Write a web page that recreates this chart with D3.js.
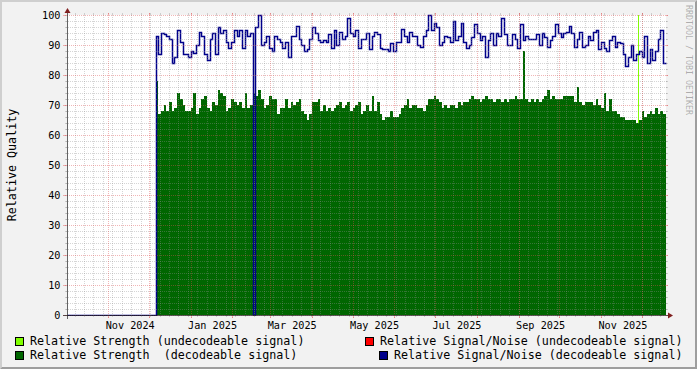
<!DOCTYPE html>
<html><head><meta charset="utf-8">
<script src="https://cdn.jsdelivr.net/npm/d3@7"></script>
<style>html,body{margin:0;padding:0;background:#f2f2f2}svg{display:block}text{font-family:"DejaVu Sans Mono",monospace;white-space:pre}</style>
</head><body><svg id="c" width="697" height="369"></svg>
<script>
// ---------------- data ----------------
const timeStart = "2024-10-01T09:50:00Z";
const timeEnd   = "2025-12-19T02:38:00Z";
const yTicks = [0,10,20,30,40,50,60,70,80,90,100];
const xLabelMonths = ["2024-11-01","2025-01-01","2025-03-01","2025-05-01","2025-07-01","2025-09-01","2025-11-01"];
const xLabels = ["Nov 2024","Jan 2025","Mar 2025","May 2025","Jul 2025","Sep 2025","Nov 2025"];
const seriesStart = "2024-12-06";
const stepDays = 2;
const snrBefore = 0;
const strengthDecodeable = [
78,67,68,70,68,71,68,69,74,72,70,68,68,69,74,67,69,72,73,69,68,71,70,75,74,73,68,69,72,71,70,71,69,74,69,70,74,
73,75,72,69,70,73,72,72,67,69,69,72,69,71,70,71,72,68,67,65,67,71,71,72,68,70,68,69,68,69,70,71,69,70,71,68,69,70,
71,67,68,70,68,73,68,71,67,65,66,66,68,66,66,67,69,70,72,69,70,70,69,69,68,70,72,72,73,72,71,69,70,69,70,70,69,71,
70,71,71,72,73,72,72,71,72,73,72,72,71,72,72,71,72,71,72,72,73,72,72,88,72,71,72,71,72,71,72,73,75,72,73,72,72,72,
73,73,73,73,71,76,71,70,71,71,71,70,72,70,69,74,68,72,68,68,67,66,66,65,65,65,65,64,65,68,66,67,68,67,69,67,68,67];
const snrDecodeable = [
93,87,94,93.5,93,92,84,86,95,91,87,87,86,88,87.5,90,94.5,93,87,85,92,94,87,96,94,95,91,89,91,95,93,95,89,95,93,94,0,
96,100,90,91,93,89,88,93,92,91,89,91,86,93,93,96.5,92,90,88,88.5,92,96,94,91.5,91,91.5,91,93.5,89,95,90,94.5,92,93,99,94,93,95,
89,92,92,94,88.5,93,94.5,93.5,89,88.5,88.5,88,90.5,88,91,91,95.5,93,91,94.5,93,93,90,89.5,93,95,100,95,97.5,96,90,91,93,92.5,91,98,91.5,93,
97.5,91,89,90,92.5,97,94,91.5,93,86,91.5,94,90,94,93,99,93.5,90,90,93.5,92,89,97,91.5,93,92,92,92,93.5,90,94,92.5,89.5,91.5,93,97,94,92.5,
94,94.5,96.5,94,89.5,92,94.5,89.5,90,93,91.5,94.5,95,88.5,91,89,88,91.5,93,89.5,91,90.5,87,83,86,90,85,87,88,86,93,84,88.5,85,88,92,95,84];
const strengthUndecodeable = [{date:"2025-11-28", days:1, value:100}];
const snrUndecodeable = [];
const legendLabels = ["Relative Strength (undecodeable signal)","Relative Signal/Noise (undecodeable signal)","Relative Strength  (decodeable signal)","Relative Signal/Noise (decodeable signal)"];
const legendColors = ["#80ff00","#ff0000","#006600","#00008b"];
const yTitle = "Relative Quality";
const watermark = "RRDTOOL / TOBI OETIKER";

// ---------------- layout ----------------
const W = 697, H = 369;
const X0 = 67, X1 = 666, Y0 = 315, Y1 = 15;
const svg = d3.select("#c");
const x = d3.scaleUtc().domain([d3.isoParse(timeStart), d3.isoParse(timeEnd)]).range([X0, X1]);
const y = d3.scaleLinear().domain([0, 100]).range([Y0, Y1]);
const px = v => Math.round(v) + 0.5;

// background + shade
svg.append("rect").attr("width", W).attr("height", H).attr("fill", "#f2f2f2");
svg.append("path").attr("d", `M0,${H}L2,${H-2}L2,2L${W-2},2L${W},0L0,0Z`).attr("fill", "#cfcfcf");
svg.append("path").attr("d", `M2,${H-2}L${W-2},${H-2}L${W-2},2L${W},0L${W},${H}L0,${H}Z`).attr("fill", "#9e9e9e");
// canvas
svg.append("rect").attr("x", X0).attr("y", Y1).attr("width", X1 - X0).attr("height", Y0 - Y1).attr("fill", "#fff");

svg.append("clipPath").attr("id", "pc").append("rect")
  .attr("x", X0).attr("y", 0).attr("width", X1 - X0 + 1).attr("height", Y0 + 1);
const gData = svg.append("g").attr("clip-path", "url(#pc)");

// series points
const t0 = d3.utcParse("%Y-%m-%d")(seriesStart);
const mkPts = arr => {
  const p = arr.map((v, i) => ({t: d3.utcDay.offset(t0, i * stepDays), v}));
  p.push({t: d3.utcDay.offset(t0, arr.length * stepDays), v: arr[arr.length - 1]});
  return p;
};
const area = d3.area().curve(d3.curveStepAfter)
  .x(d => Math.round(x(d.t))).y0(y(0)).y1(d => Math.round(y(d.v)));
const line = d3.line().curve(d3.curveStepAfter)
  .x(d => px(x(d.t))).y(d => px(y(d.v)));

// undecodeable strength (light green)
strengthUndecodeable.forEach(e => {
  const ts = d3.utcParse("%Y-%m-%d")(e.date);
  const te = d3.utcDay.offset(ts, e.days);
  gData.append("path").attr("d", area([{t: ts, v: e.value}, {t: te, v: e.value}]))
    .attr("fill", legendColors[0]).attr("shape-rendering", "crispEdges");
});
// decodeable strength (dark green)
gData.append("path").attr("d", area(mkPts(strengthDecodeable)))
  .attr("fill", legendColors[2]).attr("shape-rendering", "crispEdges");

// grid
const gGrid = svg.append("g").attr("fill", "none");
const gridCol = "rgba(143,143,143,0.75)", mgridCol = "rgba(222,79,79,0.6)";
d3.range(0, 101, 2).filter(v => v % 10 !== 0).forEach(v => {
  const yy = px(y(v));
  gGrid.append("line").attr("x1", X0 - 2).attr("x2", X0).attr("y1", yy).attr("y2", yy).attr("stroke", gridCol).attr("stroke-width", 0.5);
  gGrid.append("line").attr("x1", X1).attr("x2", X1 + 2).attr("y1", yy).attr("y2", yy).attr("stroke", gridCol).attr("stroke-width", 0.5);
  gGrid.append("line").attr("x1", X0 - 1).attr("x2", X1 + 1).attr("y1", yy).attr("y2", yy).attr("stroke", gridCol).attr("stroke-width", 0.5).attr("stroke-dasharray", "1,1");
});
d3.utcMonday.range(x.domain()[0], x.domain()[1]).forEach(d => {
  const xx = px(x(d));
  gGrid.append("line").attr("x1", xx).attr("x2", xx).attr("y1", Y1 - 2).attr("y2", Y1).attr("stroke", gridCol).attr("stroke-width", 0.5);
  gGrid.append("line").attr("x1", xx).attr("x2", xx).attr("y1", Y0).attr("y2", Y0 + 2).attr("stroke", gridCol).attr("stroke-width", 0.5);
  gGrid.append("line").attr("x1", xx).attr("x2", xx).attr("y1", Y0 + 1).attr("y2", Y1 - 1).attr("stroke", gridCol).attr("stroke-width", 0.5).attr("stroke-dasharray", "1,1");
});
yTicks.forEach(v => {
  const yy = px(y(v));
  gGrid.append("line").attr("x1", X0 - 4).attr("x2", X0).attr("y1", yy).attr("y2", yy).attr("stroke", mgridCol).attr("stroke-width", 0.7);
  gGrid.append("line").attr("x1", X1).attr("x2", X1 + 2).attr("y1", yy).attr("y2", yy).attr("stroke", mgridCol).attr("stroke-width", 0.7);
  gGrid.append("line").attr("x1", X0 - 2).attr("x2", X1 + 2).attr("y1", yy).attr("y2", yy).attr("stroke", mgridCol).attr("stroke-width", 0.7).attr("stroke-dasharray", "1,1");
});
d3.utcMonth.range(x.domain()[0], x.domain()[1]).forEach(d => {
  const xx = px(x(d));
  gGrid.append("line").attr("x1", xx).attr("x2", xx).attr("y1", Y1 - 2).attr("y2", Y1).attr("stroke", mgridCol).attr("stroke-width", 0.7);
  gGrid.append("line").attr("x1", xx).attr("x2", xx).attr("y1", Y0).attr("y2", Y0 + 3).attr("stroke", mgridCol).attr("stroke-width", 0.7);
  gGrid.append("line").attr("x1", xx).attr("x2", xx).attr("y1", Y0 + 3).attr("y2", Y1 - 2).attr("stroke", mgridCol).attr("stroke-width", 0.7).attr("stroke-dasharray", "1,1");
});

// axes
svg.append("line").attr("x1", X0 - 4).attr("x2", X1 + 4).attr("y1", Y0 + 0.5).attr("y2", Y0 + 0.5).attr("stroke", "#1f1f1f").attr("stroke-width", 0.7);
svg.append("line").attr("x1", X0 + 0.5).attr("x2", X0 + 0.5).attr("y1", Y0 + 4).attr("y2", Y1 - 4).attr("stroke", "#1f1f1f").attr("stroke-width", 0.7);

// S/N decodeable (blue line), starting from the prior zero level at domain start
const snPts = [{t: x.domain()[0], v: snrBefore}].concat(mkPts(snrDecodeable));
gData.append("path").attr("d", line(snPts)).attr("fill", "none")
  .attr("stroke", legendColors[3]).attr("stroke-width", 1.5).attr("stroke-linejoin", "miter");

// arrows
svg.append("path").attr("d", `M${X1 + 2},${Y0 - 2.5}L${X1 + 2},${Y0 + 3.5}L${X1 + 7},${Y0 + 0.5}Z`).attr("fill", "#801f1f");
svg.append("path").attr("d", `M${X0 - 2.5},${Y1 - 2}L${X0 + 3.5},${Y1 - 2}L${X0 + 0.5},${Y1 - 7}Z`).attr("fill", "#801f1f");

// y tick labels
svg.append("g").selectAll("text").data(yTicks).join("text")
  .attr("x", 60.5).attr("y", d => y(d) + 3.7).attr("text-anchor", "end")
  .attr("font-size", 10.2).attr("fill", "#000").text(d => d);
// x labels (centred mid-month)
svg.append("g").selectAll("text").data(xLabelMonths).join("text")
  .attr("x", d => { const m = d3.isoParse(d + "T00:00:00Z"); return x(d3.utcHour.offset(m, 16 * 24 + 6)); })
  .attr("y", 328.5).attr("text-anchor", "middle").attr("font-size", 10.2).attr("fill", "#000")
  .text((d, i) => xLabels[i]);

// y title
svg.append("text").attr("transform", "translate(15.5,165) rotate(-90)").attr("text-anchor", "middle")
  .attr("font-size", 11.7).attr("fill", "#000").text(yTitle);
// watermark
svg.append("text").attr("transform", "translate(685.7,5) rotate(90)").attr("text-anchor", "start")
  .attr("font-size", 8.3).attr("fill", "#000").attr("fill-opacity", 0.3).text(watermark);

// legend
const legendPos = [
  {bx: 15, tx: 30, y: 337}, {bx: 365, tx: 380, y: 337},
  {bx: 15, tx: 30, y: 351}, {bx: 379, tx: 394, y: 351}
];
legendLabels.forEach((lab, i) => {
  const p = legendPos[i];
  svg.append("rect").attr("x", p.bx).attr("y", p.y).attr("width", 9).attr("height", 9).attr("fill", legendColors[i]);
  svg.append("rect").attr("x", p.bx + 0.5).attr("y", p.y + 0.5).attr("width", 8).attr("height", 8)
    .attr("fill", "none").attr("stroke", "#000").attr("stroke-width", 1);
  svg.append("text").attr("x", p.tx).attr("y", p.y + 8.3).attr("font-size", 11.7).attr("fill", "#000").text(lab);
});
</script></body></html>
